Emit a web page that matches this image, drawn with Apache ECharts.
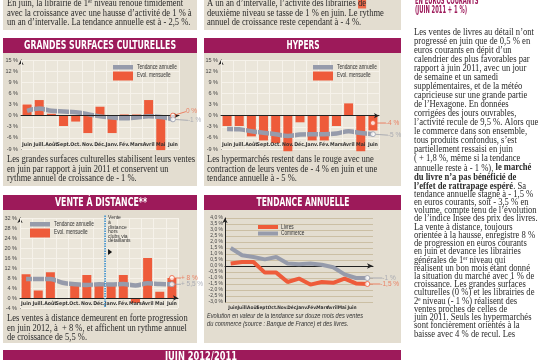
<!DOCTYPE html>
<html><head><meta charset="utf-8">
<script src="https://cdn.jsdelivr.net/npm/echarts@6/dist/echarts.min.js"></script>
<style>html,body{margin:0;padding:0;background:#fff}#c{width:540px;height:360px}</style>
</head><body><div id="c"></div>
<script>
// ---------- DATA ----------
const months = ['Juin','Juill.','Août','Sept.','Oct.','Nov.','Déc.','Janv.','Fév.','Mars','Avril','Mai','Juin'];
const gscMonthly = [3, 4.2, 0.5, -2.8, -1.6, -4.7, 2.4, -4.7, 0.3, 0.3, 4.2, -9.3, 0];
const gscTrend   = [1.3, 1.9, 1.3, 1.1, 0.9, 0.4, -0.2, -0.5, -0.7, -0.5, -0.2, -0.4, -1];
const hypMonthly = [-2.8, -2.8, -5.6, -6.7, -7.4, -9.6, -1.8, -6.7, -6.7, -2.8, 3.3, -9.6, -4];
const hypTrend   = [-3.6, -3.7, -4.2, -4.6, -5.0, -5.5, -5.1, -5.0, -5.0, -4.8, -4.2, -4.7, -5];
const vadMonthly = [9.5, 3, 10.3, 0, 5.2, 9.2, 5.2, 5, 9.2, -2, 16, 2.5, 8];
const vadTrend   = [7.6, 7.6, 7.6, 6.1, 5.5, 5.2, 5.5, 5.4, 5.6, 5.0, 5.9, 5.6, 5.5];
const livres     = [0.2, 0.33, 0.33, -0.55, -0.55, -1.33, -1.05, -1.55, -1.33, -1.4, -1.05, -1.45, -1.5];
const commerce   = [1.5, 0.9, 0.75, 0.55, 0.75, 0.2, 0.15, 0.2, 0.1, -0.1, -0.7, -1.0, -1.0];
const gscEndLabels = ['0 %', '-1 %'];
const hypEndLabels = ['-4 %', '-5 %'];
const vadEndLabels = ['+ 8 %', '+ 5,5 %'];
const taEndLabels  = ['-1 %', '-1,5 %'];
const titles = ['GRANDES SURFACES CULTURELLES', 'HYPERS', 'VENTE À DISTANCE**', 'TENDANCE ANNUELLE', 'JUIN 2012/2011'];
const legendNames = ['Tendance annuelle', 'Evol. mensuelle', 'Livres', 'Commerce'];

// ---------- STYLE ----------
const C = {orange:'#ee5b3a', orangeTxt:'#ec6a48', gray:'#969bab', grayTxt:'#9a9eaa', magenta:'#9d1a5a',
  panel:'#e3ddd0', plot:'#ebe6da', gridLine:'#f6f2ea', text:'#2a2a2a', tan:'#cbbfa4'};
const SERIF = 'Liberation Serif', SANS = 'Liberation Sans', COND = 'DejaVu Sans Condensed, DejaVu Sans';

const chart = echarts.init(document.getElementById('c'), null, {renderer:'canvas', width:540, height:360});
const mctx = document.createElement('canvas').getContext('2d');
function fit(text, size, family, weight, style, target){
  mctx.font = (style||'normal') + ' ' + (weight||'normal') + ' ' + size + 'px ' + family.split(',').map(f=>'"'+f.trim()+'"').join(',');
  return target / mctx.measureText(text).width;
}
function T(x, y, text, o){
  return {type:'text', x, y, scaleX:o.scale||1, silent:true, z:100,
    style:{text, fill:o.color||C.text, fontFamily:o.family, fontSize:o.size, fontWeight:o.weight||'normal',
      fontStyle:o.style||'normal', textAlign:o.align||'left', align:o.align||'left',
      textVerticalAlign:'middle', verticalAlign:'middle', rich:o.rich}};
}
function block(lines, x, y0, lh, o){ return lines.map((l,i)=>T(x, y0+i*lh, l, o)); }

// ---------- AXES ----------
const pct = v => v + ' %';
function catAxis(g){
  return {gridIndex:g, type:'category', data:months, z:5,
    axisLine:{lineStyle:{color:'#222', width:1}, symbol:['none','arrow'], symbolSize:[4,5]},
    axisTick:{show:false},
    axisLabel:{inside:true, interval:0, fontSize:5.2, fontWeight:'bold', fontFamily:COND, color:'#333', margin:2},
    splitLine:{show:true, lineStyle:{color:C.gridLine, width:1}}};
}
function valAxis(g, min, max, step){
  return {gridIndex:g, type:'value', min, max, interval:step,
    axisLine:{show:true, lineStyle:{color:'#222', width:1}, symbol:['none','arrow'], symbolSize:[4,5]},
    axisTick:{show:false},
    axisLabel:{formatter:pct, fontSize:5.5, fontFamily:SANS, color:'#444', margin:3},
    splitLine:{show:true, lineStyle:{color:C.gridLine, width:1}}};
}
function barS(i, data){ return {type:'bar', xAxisIndex:i, yAxisIndex:i, data, barWidth:9, clip:false, z:2,
  itemStyle:{color:C.orange}}; }
function trendS(i, data){ return {type:'line', xAxisIndex:i, yAxisIndex:i, data, symbol:'none', smooth:0.35, z:3,
  lineStyle:{color:C.gray, width:4.5}}; }
function endS(i, value, text, col, tcol, dx, dy){
  return {type:'scatter', xAxisIndex:i, yAxisIndex:i, data:[[12, value]], symbol:'circle', symbolSize:5, z:10,
    itemStyle:{color:'#fff', borderColor:col, borderWidth:1},
    label:{show:true, position:'right', distance:2, formatter:text, color:tcol, fontSize:6.5, fontFamily:SANS},
    labelLayout:{dx, dy}, labelLine:{show:true, lineStyle:{color:tcol, width:0.8}}};
}

const option = {
  animation:false,
  backgroundColor:'#ffffff',
  grid:[
    {left:21, top:60, width:158, height:89, show:true, backgroundColor:C.plot, borderWidth:0},
    {left:221, top:60, width:158, height:89, show:true, backgroundColor:C.plot, borderWidth:0},
    {left:20, top:218, width:158, height:90, show:true, backgroundColor:C.plot, borderWidth:0},
    {left:225, top:218, width:148, height:84},
    {left:228, top:218, width:129, height:84}
  ],
  xAxis:[
    catAxis(0), catAxis(1), catAxis(2),
    {gridIndex:3, type:'category', data:months, axisLine:{lineStyle:{color:'#222'}, symbol:['none','arrow'], symbolSize:[4,6]},
      axisTick:{show:false}, axisLabel:{show:false}, splitLine:{show:false}},
    {gridIndex:4, type:'category', data:months, axisLine:{show:false}, axisTick:{show:false},
      axisLabel:{interval:0, fontSize:4.8, fontWeight:'bold', fontFamily:COND, color:'#333', margin:3}}
  ],
  yAxis:[
    valAxis(0, -9, 15, 3), valAxis(1, -9, 15, 3), valAxis(2, -4, 32, 4),
    {gridIndex:3, type:'value', min:-3, max:4, interval:0.5,
      axisLine:{show:true, lineStyle:{color:'#222'}, symbol:['none','arrow'], symbolSize:[4,5]}, axisTick:{show:false},
      axisLabel:{formatter:v=>v.toFixed(1).replace('.', ',')+' %', fontSize:5, fontFamily:SANS, color:'#444', margin:2},
      splitLine:{show:true, lineStyle:{color:C.tan, width:1}}},
    {gridIndex:4, type:'value', min:-3, max:4, show:false}
  ],
  series:[
    barS(0, gscMonthly), trendS(0, gscTrend),
    endS(0, gscMonthly[12], gscEndLabels[0], C.orange, C.orangeTxt, 8, -4),
    endS(0, gscTrend[12], gscEndLabels[1], C.gray, C.grayTxt, 10, 1),
    barS(1, hypMonthly), trendS(1, hypTrend),
    endS(1, hypMonthly[12]*0.5, hypEndLabels[0], C.orange, C.orangeTxt, 8, 0),
    endS(1, hypTrend[12], hypEndLabels[1], C.gray, C.grayTxt, 10, 1),
    barS(2, vadMonthly), trendS(2, vadTrend),
    endS(2, vadMonthly[12], vadEndLabels[0], C.orange, C.orangeTxt, 4, 0),
    endS(2, vadTrend[12], vadEndLabels[1], C.gray, C.grayTxt, 4, 0),
    {type:'line', xAxisIndex:3, yAxisIndex:3, data:commerce, symbol:'none', z:3, lineStyle:{color:C.gray, width:4}},
    {type:'line', xAxisIndex:3, yAxisIndex:3, data:livres, symbol:'none', z:4, lineStyle:{color:C.orange, width:4}},
    endS(3, commerce[12], taEndLabels[0], C.gray, C.grayTxt, 10, 0),
    endS(3, livres[12], taEndLabels[1], C.orange, C.orangeTxt, 8, 0)
  ]
};
chart.setOption(option);

// ---------- GRAPHICS (panels, titles, texts) ----------
const G = [];
const rect = (x,y,w,h,fill,z) => ({type:'rect', shape:{x,y,width:w,height:h}, style:{fill}, silent:true, z:z==null?-10:z});
G.push(rect(3,-5,194,35,C.panel), rect(204,-5,197,35,C.panel));
G.push(rect(3,38,194,148,C.panel), rect(204,38,197,148,C.panel));
G.push(rect(3,195,194,148,C.panel), rect(204,195,197,148,C.panel));
G.push(rect(3,38,194,15,C.magenta,1), rect(204,38,197,15,C.magenta,1));
G.push(rect(3,195,194,15,C.magenta,1), rect(204,195,197,15,C.magenta,1));
G.push(rect(3,350,398,15,C.magenta,1));

const tW = [152, 33, 92, 93, 72], tX = [100, 303, 101, 303, 201], tY = [46, 46, 203, 203, 357];
titles.forEach((t,i)=>{
  const s = fit(t, 11.5, COND, 'bold', 'normal', tW[i]);
  G.push(T(tX[i], tY[i], t, {family:COND, size:11.5, weight:'bold', color:'#fff', align:'center', scale:s}));
});

// paragraph text
const PS = 11.2;
const tl = ['En juin, la librairie de 1ᵉʳ niveau renoue timidement',
  'avec la croissance avec une hausse d’activité de 1 % à',
  'un an d’intervalle. La tendance annuelle est à - 2,5 %.'];
const tr = ['{n|A un an d’intervalle, l’activité des librairies }{h|de}',
  'deuxième niveau se tasse de 1 % en juin. Le rythme',
  'annuel de croissance reste cependant à - 4 %.'];
const c1 = ['Les grandes surfaces culturelles stabilisent leurs ventes',
  'en juin par rapport à juin 2011 et conservent un',
  'rythme annuel de croissance de - 1 %.'];
const c2 = ['Les hypermarchés restent dans le rouge avec une',
  'contraction de leurs ventes de - 4 % en juin et une',
  'tendance annuelle à - 5 %.'];
const c3 = ['Les ventes à distance demeurent en forte progression',
  'en juin 2012, à  + 8 %, et affichent un rythme annuel',
  'de croissance de 5,5 %.'];
const sP = fit(c1[0], PS, SERIF, 'normal', 'normal', 188);
const pOpt = {family:SERIF, size:PS, scale:sP};
G.push(...block(tl, 7, 3, 9.6, pOpt));
G.push(...block(tr, 207, 3, 9.6, Object.assign({}, pOpt, {rich:{n:{fontFamily:SERIF, fontSize:PS, fill:C.text},
  h:{fontFamily:SERIF, fontSize:PS, fill:C.text, backgroundColor:'#ef6a4a'}}})));
G.push(...block(c1, 7, 159, 9.6, pOpt));
G.push(...block(c2, 207, 159, 9.6, pOpt));
G.push(...block(c3, 7, 318, 9.6, pOpt));

// chart 4 caption
const cap4 = ['Evolution en valeur de la tendance sur douze mois des ventes',
  'du commerce (source : Banque de France) et des livres.'];
const s4 = fit(cap4[0], 7.5, SANS, 'normal', 'italic', 156);
G.push(...block(cap4, 207, 316, 7.8, {family:SANS, size:7.5, style:'italic', scale:s4, color:'#333'}));

// legends
const sL = fit(legendNames[0], 6.5, SANS, 'normal', 'normal', 40);
const lOpt = {family:SANS, size:6.5, scale:sL, color:'#333'};
[[113,65],[313,65],[30,222]].forEach(([x,y])=>{
  G.push(rect(x, y, 20, 4.5, C.gray, 20), rect(x, y+6.5, 20, 9, C.orange, 20));
  G.push(T(x+24, y+2, legendNames[0], lOpt), T(x+24, y+10.5, legendNames[1], lOpt));
});
G.push(rect(258, 225, 20, 4, C.orange, 20), rect(258, 231.5, 20, 4, C.gray, 20));
G.push(T(281, 227, legendNames[2], lOpt), T(281, 233.5, legendNames[3], lOpt));

// right column
const hdr = ['EN EUROS COURANTS', '(JUIN 2011 + 1 %)'];
const sH = fit(hdr[1], 10, COND, 'bold', 'normal', 52);
G.push(...block(hdr, 415, 1, 9, {family:COND, size:10, weight:'bold', color:C.magenta, scale:sH}));
const rightLines = [
 'Les ventes de livres au détail n’ont',
 'progressé en juin que de 0,5 % en',
 'euros courants en dépit d’un',
 'calendrier des plus favorables par',
 'rapport à juin 2011, avec un jour',
 'de semaine et un samedi',
 'supplémentaires, et de la météo',
 'capricieuse sur une grande partie',
 'de l’Hexagone. En données',
 'corrigées des jours ouvrables,',
 'l’activité recule de 9,5 %. Alors que',
 'le commerce dans son ensemble,',
 'tous produits confondus, s’est',
 'partiellement ressaisi en juin',
 '( + 1,8 %, même si la tendance',
 '{n|annuelle reste à - 1 %), }{b|le marché}',
 '{b|du livre n’a pas bénéficié de}',
 '{b|l’effet de rattrapage espéré}{n|. Sa}',
 'tendance annuelle stagne à - 1,5 %',
 'en euros courants, soit - 3,5 % en',
 'volume, compte tenu de l’évolution',
 'de l’indice Insee des prix des livres.',
 'La vente à distance, toujours',
 'orientée à la hausse, enregistre 8 %',
 'de progression en euros courants',
 'en juin et devance les librairies',
 'générales de 1ᵉʳ niveau qui',
 'réalisent un bon mois étant donné',
 'la situation du marché avec 1 % de',
 'croissance. Les grandes surfaces',
 'culturelles (0 %) et les librairies de',
 '2ᵉ niveau (- 1 %) réalisent des',
 'ventes proches de celles de',
 'juin 2011. Seuls les hypermarchés',
 'sont foncièrement orientés à la',
 'baisse avec 4 % de recul. Les'
];
const RS = 9.9;
const sR = fit(rightLines[0], RS, SERIF, 'normal', 'normal', 120);
const rOpt = {family:SERIF, size:RS, scale:sR,
  rich:{n:{fontFamily:SERIF, fontSize:RS, fill:C.text}, b:{fontFamily:SERIF, fontSize:RS, fontWeight:'bold', fill:C.text}}};
rightLines.forEach((l,i)=>{
  const y = i <= 17 ? 32 + i*9.06 : 186 + (i-17)*8.22;
  G.push(T(414, y, l, rOpt));
});

// dotted separator in "vente à distance" chart, positioned via the library's scale
const xa = chart.convertToPixel({xAxisIndex:2}, 6), xb = chart.convertToPixel({xAxisIndex:2}, 7);
const xm = (xa + xb) / 2;
const yTop = chart.convertToPixel({yAxisIndex:2}, 33), yBot = chart.convertToPixel({yAxisIndex:2}, -4);
G.push({type:'line', shape:{x1:xm, y1:yTop, x2:xm, y2:yBot}, silent:true, z:30,
  style:{stroke:'#3b8fcb', lineWidth:1.6, lineDash:[1.5,1]}});
const note = ['Vente', 'à', 'distance', 'hors', 'clubs via', 'détaillants'];
G.push(...block(note, xm+3, 218, 4.6, {family:SANS, size:5, color:'#333'}));
G.push({type:'polygon', shape:{points:[[xm+3,249],[xm+3,255],[xm+7,252]]}, style:{fill:'#111'}, silent:true, z:30});

chart.setOption({graphic:{elements:G}});
</script></body></html>
